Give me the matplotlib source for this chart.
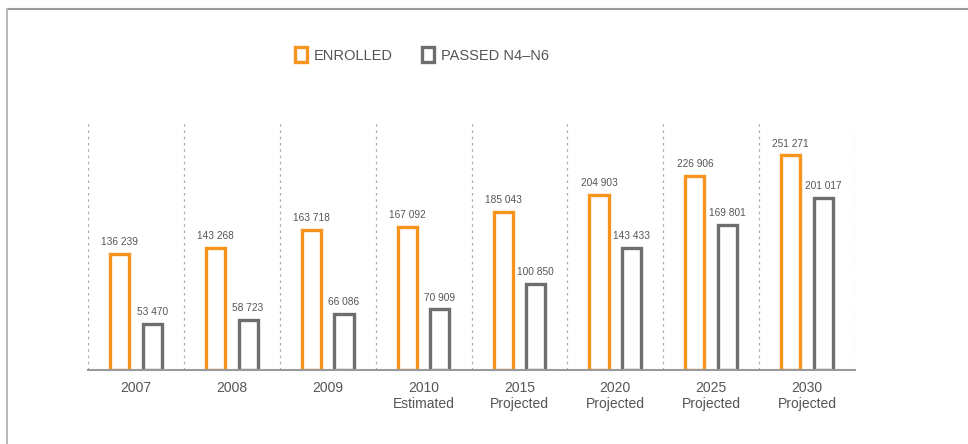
import matplotlib
matplotlib.use("Agg")
import matplotlib.pyplot as plt
from matplotlib.patches import Patch
from matplotlib.lines import Line2D
import numpy as np

years = ["2007", "2008", "2009", "2010", "2015", "2020", "2025", "2030"]
notes = ["", "", "", "Estimated", "Projected", "Projected", "Projected", "Projected"]
enrolled = [136239, 143268, 163718, 167092, 185043, 204903, 226906, 251271]
passed = [53470, 58723, 66086, 70909, 100850, 143433, 169801, 201017]
series_names = ["ENROLLED", "PASSED N4\u2013N6"]

ORANGE = "#F7941D"
GRAY = "#6D6E71"
TEXT = "#555555"

def fmt(v):
    return f"{v:,}".replace(",", " ")

fig = plt.figure(figsize=(9.68, 4.44), dpi=100)
ax = fig.add_axes([88/968, (444-370)/444, (855-88)/968, 250/444])

x = np.arange(len(years))
w = 0.20
off = 0.17
b1 = ax.bar(x - off, enrolled, width=w, facecolor="white", edgecolor=ORANGE, linewidth=2.4)
b2 = ax.bar(x + off, passed, width=w, facecolor="white", edgecolor=GRAY, linewidth=2.4)

for bars, vals in ((b1, enrolled), (b2, passed)):
    for r, v in zip(bars, vals):
        ax.annotate(fmt(v), (r.get_x() + r.get_width()/2, v), xytext=(0, 5),
                    textcoords="offset points", ha="center", va="bottom",
                    fontsize=7.3, color=TEXT, family="Liberation Sans")

for s in np.arange(-0.5, len(years), 1.0):
    ax.axvline(s, color="#AAAAAA", linestyle=(0, (2, 3)), linewidth=0.9, zorder=0)

ax.set_xlim(-0.5, len(years) - 0.5)
ax.set_ylim(0, 292800)
for sp in ("top", "right", "left"):
    ax.spines[sp].set_visible(False)
ax.spines["bottom"].set_color("#9A9A9A")
ax.spines["bottom"].set_linewidth(1.5)
ax.set_yticks([])
ax.set_xticks(x)
ax.set_xticklabels([y if not n else f"{y}\n{n}" for y, n in zip(years, notes)],
                   fontsize=10, color=TEXT, family="Liberation Sans", linespacing=1.2)
ax.tick_params(axis="x", length=0, pad=8)

handles = [Patch(facecolor="white", edgecolor=ORANGE, linewidth=2.4),
           Patch(facecolor="white", edgecolor=GRAY, linewidth=2.4)]
leg = ax.legend(handles, series_names, loc="center", bbox_to_anchor=(0.436, 0.876),
                bbox_transform=fig.transFigure, ncol=2, frameon=False,
                handlelength=0.8, handleheight=1.2, handletextpad=0.5, columnspacing=2.0,
                prop={"family": "Liberation Sans", "size": 10.5})
for t in leg.get_texts():
    t.set_color(TEXT)

# outer frame lines
fig.add_artist(Line2D([6.5/968, 1.0], [1 - 9/444, 1 - 9/444], transform=fig.transFigure,
                      color="#9A9A9A", linewidth=1.5))
fig.add_artist(Line2D([6.5/968, 6.5/968], [0, 1 - 9/444], transform=fig.transFigure,
                      color="#BBBBBB", linewidth=1.5))

fig.savefig("out.png", dpi=100, facecolor="white")
